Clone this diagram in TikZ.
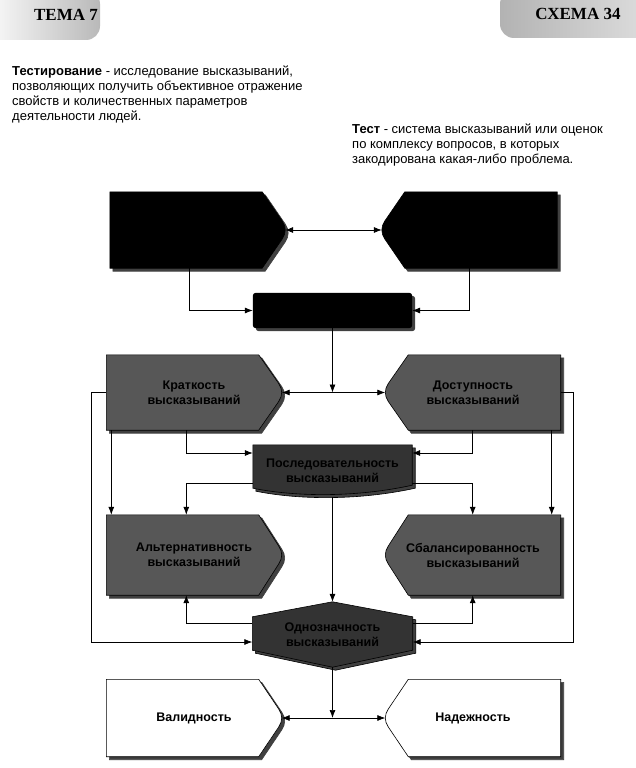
\documentclass[tikz,border=0pt]{standalone}
\usepackage{fontspec}
\setmainfont{Liberation Sans}
\newfontfamily\headfont{Liberation Serif}
\usetikzlibrary{shapes,arrows,arrows.meta,positioning,calc}
\pgfdeclarelayer{background}
\pgfsetlayers{background,main}
\definecolor{seryj}{gray}{0.34}
\definecolor{temnyj}{gray}{0.2}
\tikzstyle{blok} = [rectangle, minimum width=175pt, inner sep=0pt, align=center, text=black, font=\bfseries\fontsize{12.5}{15}\selectfont]
\tikzstyle{sredn} = [blok, minimum width=159pt]
\tikzstyle{svjaz} = [-{Latex[length=8pt,width=6pt]}, line width=0.7pt]
\tikzstyle{dvoj} = [{Latex[length=8pt,width=6pt]}-{Latex[length=8pt,width=6pt]}, line width=0.7pt]
\tikzstyle{zagolovok} = [font=\headfont\bfseries\fontsize{17}{20}\selectfont]
\tikzstyle{opisanie} = [anchor=north west, align=left, inner sep=0pt, font=\fontsize{13}{15}\selectfont]
\newcommand{\ostrR}[2]{%
	\foreach \sdv/\zal/\obv in {3pt/black!75/black!75, 0pt/#2/black}{
		\filldraw[fill=\zal, draw=\obv, line width=0.6pt, transform canvas={shift={(\sdv,-\sdv)}}] (#1.north west) -- ($(#1.north east)+(-23,0)$) -- ($(#1.east)+(-3,-9)$) .. controls ($(#1.east)+(1,-3)$) and ($(#1.east)+(1,3)$) .. ($(#1.east)+(-3,9)$) -- ($(#1.south east)+(-23,0)$) -- (#1.south west) -- cycle;
	}}
\newcommand{\ostrL}[2]{%
	\foreach \sdv/\zal/\obv in {3pt/black!75/black!75, 0pt/#2/black}{
		\filldraw[fill=\zal, draw=\obv, line width=0.6pt, transform canvas={shift={(\sdv,-\sdv)}}] (#1.north east) -- ($(#1.north west)+(23,0)$) -- ($(#1.west)+(3,-9)$) .. controls ($(#1.west)+(-1,-3)$) and ($(#1.west)+(-1,3)$) .. ($(#1.west)+(3,9)$) -- ($(#1.south west)+(23,0)$) -- (#1.south east) -- cycle;
	}}

\begin{document}
\begin{tikzpicture}[x=1pt, y=-1pt]
	\useasboundingbox (0,0) rectangle (635,768);
	\node[zagolovok] (tema) at (66,15) {ТЕМА 7};
	\node[zagolovok] (shema) at (578,14) {СХЕМА 34};
	\node[opisanie] (testir) at (12,66) {\textbf{Тестирование} - исследование высказываний,\\позволяющих получить объективное отражение\\свойств и количественных параметров\\деятельности людей.};
	\node[opisanie] (test) at (352,124) {\textbf{Тест} - система высказываний или оценок\\по комплексу вопросов, в которых\\закодирована какая-либо проблема.};

	\node[blok, minimum height=76pt] (kl) at (197.5,230) {};
	\node[blok, minimum height=76pt] (kr) at (469.5,230) {};
	\node[sredn, minimum height=35pt] (ctr) at (332.5,310.5) {};
	\node[blok, minimum height=75pt] (krat) at (194,392.5) {Краткость\\высказываний};
	\node[blok, minimum height=75pt] (dost) at (473,392.5) {Доступность\\высказываний};
	\node[sredn, minimum height=52pt] (posl) at (332.5,471) {Последовательность\\высказываний};
	\node[blok, minimum height=80pt] (alt) at (194,555) {Альтернативность\\высказываний};
	\node[blok, minimum height=80pt] (bal) at (473,555) {Сбалансированность\\высказываний};
	\node[sredn, minimum width=160pt, minimum height=65pt] (odn) at (332.5,634.5) {Однозначность\\высказываний};
	\node[blok, minimum height=77pt] (val) at (194,718) {Валидность};
	\node[blok, minimum height=77pt] (nad) at (473,718) {Надежность};

	\begin{pgfonlayer}{background}
		\fill[white] (0,0) rectangle (635,768);
		\shade[left color=white, right color=gray!55, rounded corners=14pt] (-20,-10) rectangle (100,40);
		\shade[left color=gray!60, right color=gray!25, rounded corners=14pt] (500,-10) rectangle (655,38);
		\ostrR{kl}{black}
		\ostrL{kr}{black}
		\ostrR{krat}{seryj}
		\ostrL{dost}{seryj}
		\ostrR{alt}{seryj}
		\ostrL{bal}{seryj}
		\ostrR{val}{white}
		\ostrL{nad}{white}
		\fill[black!75, rounded corners=3pt] ($(ctr.north west)+(3,3)$) rectangle ($(ctr.south east)+(3,3)$);
		\fill[black, rounded corners=3pt] (ctr.north west) rectangle (ctr.south east);
		\foreach \sdv/\zal in {3pt/black!75, 0pt/temnyj}{
			\filldraw[fill=\zal, draw=black, line width=0.6pt, transform canvas={shift={(\sdv,-\sdv)}}] (posl.north west) -- (posl.north east) -- ($(posl.south east)+(0,-12)$) .. controls ($(posl.south)+(25,0)$) and ($(posl.south)+(-35,0)$) .. ($(posl.south west)+(0,-9)$) -- cycle;
			\filldraw[fill=\zal, draw=black, line width=0.6pt, transform canvas={shift={(\sdv,-\sdv)}}] ($(odn.north west)+(0,15)$) -- (odn.north) -- ($(odn.north east)+(0,15)$) -- ($(odn.south east)+(0,-17)$) -- (odn.south) -- ($(odn.south west)+(0,-17)$) -- cycle;
		}
	\end{pgfonlayer}

	\draw[dvoj] (kl.east) -- (kr.west);
	\draw[svjaz] ($(kl.south west)+(80,0)$) |- (ctr.west);
	\draw[svjaz] ($(kr.south east)+(-88,0)$) |- (ctr.east);
	\draw[svjaz] (ctr.south) -- (ctr.south |- krat.east);
	\draw[dvoj] (krat.east) -- (dost.west);
	\draw[svjaz] ($(krat.south west)+(80,0)$) |- ([yshift=18pt]posl.west);
	\draw[svjaz] ($(dost.south east)+(-88,0)$) |- ([yshift=18pt]posl.east);
	\draw[svjaz] ([yshift=-12pt]posl.west) -| ($(alt.north west)+(80,0)$);
	\draw[svjaz] ([yshift=-12pt]posl.east) -| ($(bal.north east)+(-88,0)$);
	\draw[svjaz] ($(krat.south west)+(5,0)$) -- ($(alt.north west)+(5,0)$);
	\draw[svjaz] ($(dost.south east)+(-9,0)$) -- ($(bal.north east)+(-9,0)$);
	\draw[svjaz] (krat.west) -- ++(-15,0) |- ([yshift=-7.5pt]odn.west);
	\draw[svjaz] (dost.east) -- ++(13,0) |- ([yshift=-7.5pt]odn.east);
	\draw[svjaz] (posl.south) -- (odn.north);
	\draw[svjaz] ([yshift=11.5pt]odn.west) -| ($(alt.south west)+(80,0)$);
	\draw[svjaz] ([yshift=11.5pt]odn.east) -| ($(bal.south east)+(-88,0)$);
	\draw[svjaz] (odn.south) -- (odn.south |- val.east);
	\draw[dvoj] (val.east) -- (nad.west);
\end{tikzpicture}
\end{document}
